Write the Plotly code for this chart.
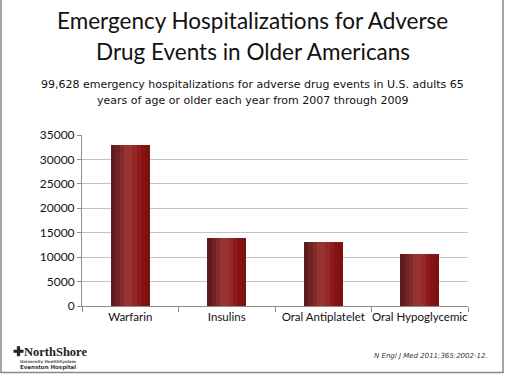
import plotly.graph_objects as go

categories = ["Warfarin", "Insulins", "Oral Antiplatelet", "Oral Hypoglycemic"]
hospitalizations = [32900, 13850, 13200, 10600]
y_ticks = [0, 5000, 10000, 15000, 20000, 25000, 30000, 35000]
y_tick_labels = ["0", "5000", "10000", "15000", "20000", "25000", "30000", "35000"]

title_lines = ["Emergency Hospitalizations for Adverse", "Drug Events in Older Americans"]
subtitle_lines = ["99,628 emergency hospitalizations for adverse drug events in U.S. adults 65",
                  "years of age or older each year from 2007 through 2009"]
citation = "N Engl J Med 2011;365:2002-12."

W, H = 505, 376
L, R, T, B = 82, 37, 135, 70

# gradient slices for the bar look
grad = ["#5e1c1c", "#6f2323", "#832b2b", "#953434", "#9a3232", "#952727", "#8d1b1b", "#871414", "#7e1010"]
bar_w = 0.40
n = len(grad)
fig = go.Figure()
for i, c in enumerate(grad):
    fig.add_trace(go.Bar(
        x=categories, y=hospitalizations,
        width=bar_w / n + 0.002, offset=-bar_w / 2 + i * bar_w / n,
        marker=dict(color=c, line=dict(width=0)),
        hoverinfo="y", showlegend=False,
    ))

pw = W - L - R
ph = H - T - B
def px(x):
    return (x - L) / pw
def py(y):
    return (H - B - y) / ph

ann = []
for k, t in enumerate(title_lines):
    ann.append(dict(text=t, x=px(W / 2), y=py(20 + 31 * k), xref="paper", yref="paper",
                    showarrow=False, xanchor="center", yanchor="middle",
                    font=dict(family="Lato", size=22.5, color="#111")))
for k, t in enumerate(subtitle_lines):
    ann.append(dict(text=t, x=px(W / 2), y=py(84 + 16 * k), xref="paper", yref="paper",
                    showarrow=False, xanchor="center", yanchor="middle",
                    font=dict(family="DejaVu Sans", size=11, color="#111")))
ann.append(dict(text=citation, x=px(490), y=py(356), xref="paper", yref="paper",
                showarrow=False, xanchor="right", yanchor="middle",
                font=dict(family="DejaVu Sans", size=7, color="#333", style="italic")))
ann.append(dict(text="<b>✚NorthShore</b>", x=px(11), y=py(352), xref="paper", yref="paper",
                showarrow=False, xanchor="left", yanchor="middle",
                font=dict(family="Liberation Serif", size=12.5, color="#222")))
ann.append(dict(text="<b>University HealthSystem</b>", x=px(48), y=py(361), xref="paper", yref="paper",
                showarrow=False, xanchor="center", yanchor="middle",
                font=dict(family="DejaVu Sans", size=4, color="#555")))
ann.append(dict(text="<b>Evanston Hospital</b>", x=px(48), y=py(367), xref="paper", yref="paper",
                showarrow=False, xanchor="center", yanchor="middle",
                font=dict(family="DejaVu Sans", size=5.5, color="#333")))

fig.update_layout(
    width=W, height=H,
    margin=dict(l=L, r=R, t=T, b=B, pad=0),
    paper_bgcolor="white", plot_bgcolor="white",
    barmode="overlay", bargap=0,
    annotations=ann,
    shapes=[dict(type="rect", xref="paper", yref="paper",
                 x0=px(1), x1=px(503), y0=py(372.5), y1=py(-2),
                 line=dict(color="#888", width=1.5))],
    xaxis=dict(showgrid=False, showline=True, linecolor="#8c8c8c", linewidth=1,
               ticks="outside", tickson="boundaries", ticklen=5, tickcolor="#8c8c8c",
               tickangle=0, automargin=False,
               tickfont=dict(family="Lato", size=11.5, color="#111")),
    yaxis=dict(range=[0, 35000], tickvals=y_ticks, ticktext=y_tick_labels,
               showgrid=True, gridcolor="#c4c4c4", automargin=False,
               gridwidth=1, showline=True, linecolor="#8c8c8c", zeroline=False,
               ticks="outside", ticklen=4, tickcolor="#8c8c8c",
               tickfont=dict(family="Lato", size=12, color="#111")),
)

fig.write_html("out.html", config={"displayModeBar": False},
               post_script="document.body.style.margin='0';document.body.style.overflow='hidden';")
